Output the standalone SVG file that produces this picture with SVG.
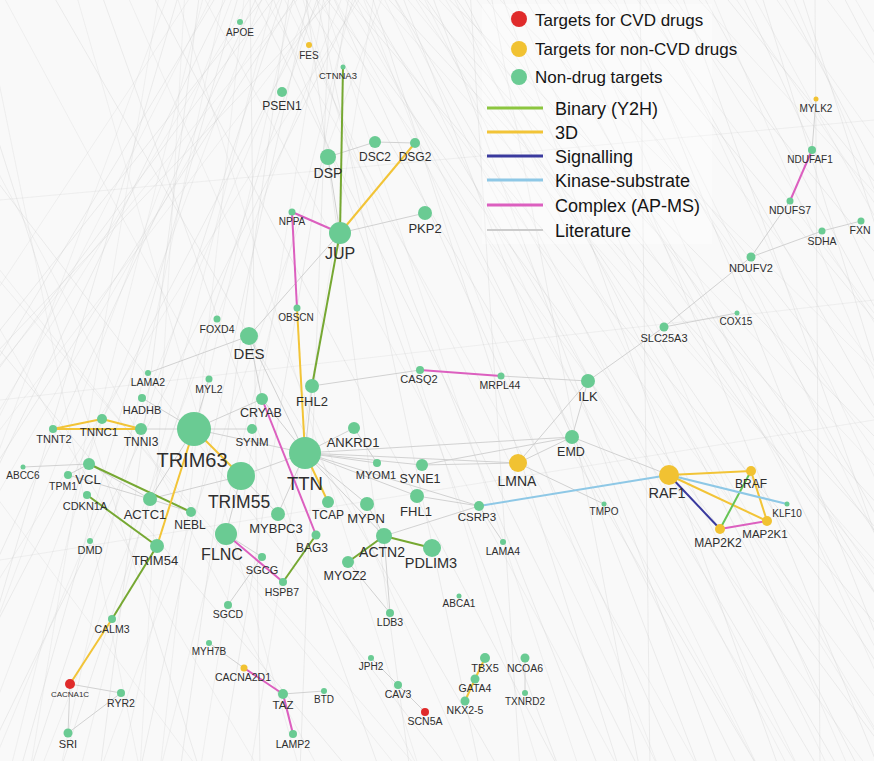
<svg xmlns="http://www.w3.org/2000/svg" width="874" height="761" viewBox="0 0 874 761">
<style>
.bg{stroke:#c4c4c4;stroke-width:0.55;opacity:0.5;fill:none}
.bg2{stroke:#cbcbcb;stroke-width:0.5;opacity:0.45;fill:none}
.lit{stroke:#cdcdcd;stroke-width:0.9}
.y2h{stroke:#76a832;stroke-width:2}
.d3{stroke:#f2c437;stroke-width:2}
.sig{stroke:#3a3a9e;stroke-width:2}
.ks{stroke:#8ec8e6;stroke-width:2}
.apms{stroke:#dc5fbf;stroke-width:2}
.g{fill:#6acb93}
.yl{fill:#f1c232}
.rd{fill:#e02b2b}
text{font-family:"Liberation Sans",Arial,Helvetica,sans-serif;fill:#2e2e2e;text-anchor:middle}
.lg text{text-anchor:start;fill:#151515}
</style>
<rect width="874" height="761" fill="#f9f9f9"/>
<path class="bg" d="M300 -10L760 771M320 -10L900 771M340 -10L1000 771M360 -10L820 771M380 -10L1100 771M400 -10L700 771M420 -10L950 771M440 -10L1200 771M460 -10L860 771M480 -10L1050 771M500 -10L780 771M520 -10L980 771M540 -10L1150 771M560 -10L880 771M580 -10L1020 771M600 -10L1250 771M620 -10L930 771M640 -10L1080 771M660 -10L1300 771M680 -10L960 771M700 -10L1130 771M720 -10L1350 771M250 -10L640 771M270 -10L560 771M290 -10L600 771M330 -10L680 771M350 -10L740 771M370 -10L620 771M390 -10L840 771M410 -10L1120 771M430 -10L720 771M450 -10L1000 771M280 -10L-300 771M260 -10L-100 771M240 -10L20 771M300 -10L-200 771M320 -10L60 771M220 -10L-250 771M200 -10L100 771M180 -10L-50 771M340 -10L-400 771M310 -10L140 771M290 -10L180 771M270 -10L-350 771M230 -10L-150 771M350 -10L220 771M360 -10L-20 771M250 -10L260 771M330 -10L300 771M-300 -10L350 771M-150 -10L450 771M-50 -10L200 771M50 -10L500 771M100 -10L380 771M150 -10L560 771M640 -10L650 771M815 -10L820 771M740 -10L1100 771M760 -10L1000 771M780 -10L1200 771M800 -10L1050 771M840 -10L1250 771M470 -10L520 771M490 -10L640 771M305 -10L410 771M315 -10L480 771M325 -10L-80 771M285 -10L30 771"/>
<path class="bg2" d="M310 -10L870 771M330 -10L760 771M350 -10L930 771M370 -10L1060 771M390 -10L790 771M410 -10L900 771M430 -10L1160 771M450 -10L830 771M470 -10L1010 771M490 -10L1280 771M510 -10L850 771M530 -10L940 771M550 -10L1100 771M570 -10L920 771M590 -10L1180 771M610 -10L990 771M630 -10L1220 771M650 -10L1010 771M670 -10L1150 771M690 -10L1400 771M710 -10L1040 771M730 -10L1260 771M750 -10L1180 771M770 -10L1320 771M790 -10L1120 771M820 -10L1400 771M850 -10L1300 771M260 -10L700 771M280 -10L660 771M300 -10L540 771M320 -10L580 771M340 -10L800 771M360 -10L660 771M380 -10L760 771M400 -10L1040 771M420 -10L800 771M440 -10L900 771M255 -10L-220 771M265 -10L-30 771M275 -10L80 771M285 -10L-160 771M295 -10L120 771M305 -10L-330 771M315 -10L-10 771M325 -10L200 771M335 -10L-260 771M345 -10L40 771M355 -10L160 771M365 -10L-120 771M235 -10L-60 771M245 -10L160 771M225 -10L60 771M215 -10L-180 771M205 -10L10 771M195 -10L-320 771M185 -10L140 771M170 -10L-120 771M160 -10L30 771M375 -10L250 771M385 -10L100 771M-250 -10L420 771M-200 -10L260 771M-100 -10L320 771M0 -10L420 771M-20 -10L140 771M75 -10L300 771M125 -10L470 771M175 -10L420 771M200 -10L620 771M-120 120L400 771M-150 300L200 771M0 400L874 300M0 200L874 120M0 560L874 420"/>
<g id="connectors">
<g class="lit">
<line x1="328" y1="157" x2="375" y2="142"/><line x1="375" y1="142" x2="415" y2="143"/><line x1="340" y1="233" x2="425" y2="213"/><line x1="328" y1="157" x2="340" y2="233"/><line x1="340" y1="233" x2="249" y2="336"/><line x1="148" y1="373" x2="249" y2="336"/>
<line x1="816" y1="99" x2="812" y2="150"/><line x1="790" y1="201" x2="751" y2="257"/><line x1="751" y1="257" x2="822" y2="231"/><line x1="822" y1="231" x2="861" y2="221"/><line x1="751" y1="257" x2="664" y2="327"/><line x1="664" y1="327" x2="737" y2="313"/><line x1="664" y1="327" x2="588" y2="381"/><line x1="501" y1="376" x2="588" y2="381"/>
<line x1="305" y1="453" x2="194" y2="429"/><line x1="305" y1="453" x2="241" y2="476"/><line x1="305" y1="453" x2="354" y2="428"/><line x1="305" y1="453" x2="377" y2="463"/><line x1="305" y1="453" x2="422" y2="465"/><line x1="305" y1="453" x2="518" y2="463"/><line x1="305" y1="453" x2="417" y2="496"/><line x1="305" y1="453" x2="367" y2="504"/><line x1="305" y1="453" x2="262" y2="399"/><line x1="305" y1="453" x2="312" y2="386"/><line x1="305" y1="453" x2="572" y2="437"/><line x1="305" y1="453" x2="384" y2="536"/><line x1="305" y1="453" x2="479" y2="506"/><line x1="305" y1="453" x2="278" y2="514"/><line x1="305" y1="453" x2="249" y2="336"/>
<line x1="518" y1="463" x2="572" y2="437"/><line x1="518" y1="463" x2="422" y2="465"/><line x1="518" y1="463" x2="604" y2="504"/><line x1="518" y1="463" x2="588" y2="381"/><line x1="572" y1="437" x2="588" y2="381"/><line x1="572" y1="437" x2="669" y2="475"/><line x1="572" y1="437" x2="422" y2="465"/>
<line x1="479" y1="506" x2="417" y2="496"/><line x1="479" y1="506" x2="503" y2="542"/><line x1="384" y1="536" x2="479" y2="506"/><line x1="384" y1="536" x2="390" y2="613"/><line x1="348" y1="562" x2="390" y2="613"/><line x1="367" y1="504" x2="384" y2="536"/><line x1="312" y1="386" x2="420" y2="370"/><line x1="354" y1="428" x2="377" y2="463"/><line x1="262" y1="399" x2="249" y2="336"/>
<line x1="194" y1="429" x2="141" y2="429"/><line x1="194" y1="429" x2="150" y2="499"/><line x1="194" y1="429" x2="142" y2="398"/><line x1="194" y1="429" x2="252" y2="429"/><line x1="194" y1="429" x2="209" y2="379"/><line x1="194" y1="429" x2="262" y2="399"/><line x1="241" y1="476" x2="278" y2="514"/><line x1="241" y1="476" x2="226" y2="534"/><line x1="241" y1="476" x2="150" y2="499"/>
<line x1="89" y1="464" x2="150" y2="499"/><line x1="89" y1="464" x2="68" y2="475"/><line x1="23" y1="467" x2="89" y2="464"/><line x1="150" y1="499" x2="68" y2="475"/><line x1="150" y1="499" x2="191" y2="512"/><line x1="226" y1="534" x2="262" y2="557"/><line x1="262" y1="557" x2="228" y2="605"/>
<line x1="70" y1="684" x2="121" y2="693"/><line x1="121" y1="693" x2="68" y2="733"/><line x1="70" y1="684" x2="68" y2="733"/><line x1="209" y1="643" x2="244" y2="668"/><line x1="324" y1="691" x2="283" y2="694"/><line x1="371" y1="658" x2="398" y2="685"/><line x1="398" y1="685" x2="425" y2="712"/><line x1="525" y1="658" x2="525" y2="693"/>
</g>
<g class="y2h">
<line x1="343" y1="67" x2="340" y2="233"/><line x1="340" y1="233" x2="312" y2="386"/><line x1="89" y1="464" x2="191" y2="512"/><line x1="87" y1="495" x2="157" y2="546"/><line x1="157" y1="546" x2="112" y2="619"/><line x1="283" y1="582" x2="316" y2="535"/><line x1="384" y1="536" x2="432" y2="548"/><line x1="384" y1="536" x2="348" y2="562"/>
</g>
<g class="d3">
<line x1="415" y1="143" x2="340" y2="233"/><line x1="297" y1="308" x2="305" y2="453"/><line x1="305" y1="453" x2="328" y2="502"/><line x1="194" y1="429" x2="241" y2="476"/><line x1="194" y1="429" x2="157" y2="546"/><line x1="53" y1="429" x2="102" y2="419"/><line x1="102" y1="419" x2="141" y2="429"/><line x1="53" y1="429" x2="141" y2="429"/><line x1="112" y1="619" x2="70" y2="684"/><line x1="485" y1="658" x2="475" y2="679"/><line x1="475" y1="679" x2="465" y2="701"/><line x1="669" y1="475" x2="751" y2="471"/><line x1="669" y1="475" x2="767" y2="521"/><line x1="751" y1="471" x2="767" y2="521"/>
</g>
<g class="apms">
<line x1="292" y1="212" x2="340" y2="233"/><line x1="292" y1="212" x2="297" y2="308"/><line x1="262" y1="399" x2="316" y2="535"/><line x1="226" y1="534" x2="283" y2="582"/><line x1="244" y1="668" x2="283" y2="694"/><line x1="283" y1="694" x2="293" y2="734"/><line x1="420" y1="370" x2="501" y2="376"/><line x1="812" y1="150" x2="790" y2="201"/><line x1="720" y1="529" x2="767" y2="521"/>
</g>
<line class="y2h" x1="751" y1="471" x2="720" y2="529" style="stroke:#66c455"/>
<line class="sig" x1="669" y1="475" x2="720" y2="529"/>
<g class="ks"><line x1="479" y1="506" x2="669" y2="475"/><line x1="669" y1="475" x2="787" y2="504"/></g>
</g>
<g id="n-APOE"><circle class="g" cx="240" cy="22" r="3"/><text x="240" y="36" font-size="10">APOE</text></g>
<g id="n-FES"><circle class="yl" cx="309" cy="45" r="3"/><text x="309" y="59" font-size="10">FES</text></g>
<g id="n-CTNNA3"><circle class="g" cx="343" cy="67" r="2.5"/><text x="338" y="79" font-size="9.5">CTNNA3</text></g>
<g id="n-PSEN1"><circle class="g" cx="282" cy="92" r="5"/><text x="282" y="110" font-size="12">PSEN1</text></g>
<g id="n-DSC2"><circle class="g" cx="375" cy="142" r="6"/><text x="375" y="161" font-size="12">DSC2</text></g>
<g id="n-DSG2"><circle class="g" cx="415" cy="143" r="5"/><text x="415" y="161" font-size="12">DSG2</text></g>
<g id="n-DSP"><circle class="g" cx="328" cy="157" r="8"/><text x="328" y="178" font-size="14">DSP</text></g>
<g id="n-MYLK2"><circle class="yl" cx="816" cy="99" r="2.5"/><text x="816" y="112" font-size="10">MYLK2</text></g>
<g id="n-NDUFAF1"><circle class="g" cx="812" cy="150" r="4"/><text x="810" y="163" font-size="10">NDUFAF1</text></g>
<g id="n-NDUFS7"><circle class="g" cx="790" cy="201" r="3.5"/><text x="790" y="214" font-size="10.5">NDUFS7</text></g>
<g id="n-SDHA"><circle class="g" cx="822" cy="231" r="3.5"/><text x="822" y="245" font-size="10.5">SDHA</text></g>
<g id="n-FXN"><circle class="g" cx="861" cy="221" r="3.5"/><text x="860" y="234" font-size="10.5">FXN</text></g>
<g id="n-NDUFV2"><circle class="g" cx="751" cy="257" r="4.5"/><text x="751" y="272" font-size="11">NDUFV2</text></g>
<g id="n-COX15"><circle class="g" cx="737" cy="313" r="2.5"/><text x="736" y="325" font-size="10">COX15</text></g>
<g id="n-SLC25A3"><circle class="g" cx="664" cy="327" r="4.5"/><text x="664" y="342" font-size="11">SLC25A3</text></g>
<g id="n-NPPA"><circle class="g" cx="292" cy="212" r="3.5"/><text x="292" y="225" font-size="10">NPPA</text></g>
<g id="n-OBSCN"><circle class="g" cx="297" cy="308" r="3.5"/><text x="296" y="321" font-size="10">OBSCN</text></g>
<g id="n-JUP"><circle class="g" cx="340" cy="233" r="11"/><text x="340" y="259" font-size="16">JUP</text></g>
<g id="n-PKP2"><circle class="g" cx="425" cy="213" r="7"/><text x="425" y="233" font-size="13">PKP2</text></g>
<g id="n-FOXD4"><circle class="g" cx="217" cy="319" r="3.5"/><text x="217" y="333" font-size="10.5">FOXD4</text></g>
<g id="n-DES"><circle class="g" cx="249" cy="336" r="9"/><text x="249" y="359" font-size="15">DES</text></g>
<g id="n-LAMA2"><circle class="g" cx="148" cy="373" r="3"/><text x="148" y="386" font-size="10.5">LAMA2</text></g>
<g id="n-MYL2"><circle class="g" cx="209" cy="379" r="3.5"/><text x="209" y="393" font-size="10.5">MYL2</text></g>
<g id="n-CASQ2"><circle class="g" cx="420" cy="370" r="4"/><text x="419" y="383" font-size="11">CASQ2</text></g>
<g id="n-MRPL44"><circle class="g" cx="501" cy="376" r="3.5"/><text x="500" y="389" font-size="10.5">MRPL44</text></g>
<g id="n-ILK"><circle class="g" cx="588" cy="381" r="7"/><text x="588" y="401" font-size="13">ILK</text></g>
<g id="n-FHL2"><circle class="g" cx="312" cy="386" r="7"/><text x="312" y="406" font-size="13">FHL2</text></g>
<g id="n-HADHB"><circle class="g" cx="142" cy="398" r="4"/><text x="142" y="414" font-size="11">HADHB</text></g>
<g id="n-CRYAB"><circle class="g" cx="262" cy="399" r="6"/><text x="261" y="417" font-size="12.5">CRYAB</text></g>
<g id="n-TNNC1"><circle class="g" cx="102" cy="419" r="5"/><text x="99" y="436" font-size="11.5">TNNC1</text></g>
<g id="n-TNNT2"><circle class="g" cx="53" cy="429" r="4"/><text x="54" y="443" font-size="11">TNNT2</text></g>
<g id="n-TNNI3"><circle class="g" cx="141" cy="429" r="6"/><text x="141" y="446" font-size="12">TNNI3</text></g>
<g id="n-TRIM63"><circle class="g" cx="194" cy="429" r="17"/><text x="192" y="467" font-size="20">TRIM63</text></g>
<g id="n-SYNM"><circle class="g" cx="252" cy="429" r="5"/><text x="252" y="446" font-size="11.5">SYNM</text></g>
<g id="n-ANKRD1"><circle class="g" cx="354" cy="428" r="6"/><text x="353" y="447" font-size="13">ANKRD1</text></g>
<g id="n-EMD"><circle class="g" cx="572" cy="437" r="7"/><text x="571" y="456" font-size="12.5">EMD</text></g>
<g id="n-TTN"><circle class="g" cx="305" cy="453" r="16"/><text x="305" y="490" font-size="18.5">TTN</text></g>
<g id="n-MYOM1"><circle class="g" cx="377" cy="463" r="4"/><text x="376" y="479" font-size="11">MYOM1</text></g>
<g id="n-SYNE1"><circle class="g" cx="422" cy="465" r="6"/><text x="420" y="483" font-size="12.5">SYNE1</text></g>
<g id="n-LMNA"><circle class="yl" cx="518" cy="463" r="9"/><text x="517" y="486" font-size="14">LMNA</text></g>
<g id="n-ABCC6"><circle class="g" cx="23" cy="467" r="2.5"/><text x="23" y="479" font-size="10">ABCC6</text></g>
<g id="n-VCL"><circle class="g" cx="89" cy="464" r="6"/><text x="88" y="484" font-size="13">VCL</text></g>
<g id="n-TPM1"><circle class="g" cx="68" cy="475" r="4"/><text x="63" y="490" font-size="10.5">TPM1</text></g>
<g id="n-TRIM55"><circle class="g" cx="241" cy="476" r="14"/><text x="239" y="508" font-size="17.5">TRIM55</text></g>
<g id="n-RAF1"><circle class="yl" cx="669" cy="475" r="10"/><text x="667" y="498" font-size="14.5">RAF1</text></g>
<g id="n-BRAF"><circle class="yl" cx="751" cy="471" r="5"/><text x="751" y="488" font-size="12">BRAF</text></g>
<g id="n-CDKN1A"><circle class="g" cx="87" cy="495" r="4"/><text x="85" y="510" font-size="11">CDKN1A</text></g>
<g id="n-FHL1"><circle class="g" cx="417" cy="496" r="7"/><text x="416" y="516" font-size="13">FHL1</text></g>
<g id="n-ACTC1"><circle class="g" cx="150" cy="499" r="7"/><text x="145" y="519" font-size="13">ACTC1</text></g>
<g id="n-TCAP"><circle class="g" cx="328" cy="502" r="6"/><text x="328" y="519" font-size="12">TCAP</text></g>
<g id="n-MYPN"><circle class="g" cx="367" cy="504" r="7"/><text x="366" y="523" font-size="13">MYPN</text></g>
<g id="n-CSRP3"><circle class="g" cx="479" cy="506" r="5"/><text x="477" y="521" font-size="11.5">CSRP3</text></g>
<g id="n-KLF10"><circle class="g" cx="787" cy="504" r="2.5"/><text x="787" y="517" font-size="10">KLF10</text></g>
<g id="n-TMPO"><circle class="g" cx="604" cy="504" r="2.5"/><text x="604" y="515" font-size="10">TMPO</text></g>
<g id="n-NEBL"><circle class="g" cx="191" cy="512" r="5"/><text x="190" y="529" font-size="12">NEBL</text></g>
<g id="n-MYBPC3"><circle class="g" cx="278" cy="514" r="7"/><text x="276" y="533" font-size="13">MYBPC3</text></g>
<g id="n-MAP2K1"><circle class="yl" cx="767" cy="521" r="5"/><text x="765" y="538" font-size="11.5">MAP2K1</text></g>
<g id="n-MAP2K2"><circle class="yl" cx="720" cy="529" r="5"/><text x="718" y="547" font-size="12">MAP2K2</text></g>
<g id="n-FLNC"><circle class="g" cx="226" cy="534" r="11"/><text x="222" y="560" font-size="16">FLNC</text></g>
<g id="n-BAG3"><circle class="g" cx="316" cy="535" r="4.5"/><text x="312" y="552" font-size="12">BAG3</text></g>
<g id="n-ACTN2"><circle class="g" cx="384" cy="536" r="8"/><text x="382" y="557" font-size="14">ACTN2</text></g>
<g id="n-DMD"><circle class="g" cx="90" cy="541" r="3"/><text x="90" y="554" font-size="11">DMD</text></g>
<g id="n-LAMA4"><circle class="g" cx="503" cy="542" r="3"/><text x="503" y="555" font-size="10.5">LAMA4</text></g>
<g id="n-TRIM54"><circle class="g" cx="157" cy="546" r="7"/><text x="155" y="565" font-size="13">TRIM54</text></g>
<g id="n-PDLIM3"><circle class="g" cx="432" cy="548" r="9"/><text x="431" y="568" font-size="14.5">PDLIM3</text></g>
<g id="n-SGCG"><circle class="g" cx="262" cy="557" r="4"/><text x="262" y="574" font-size="11">SGCG</text></g>
<g id="n-MYOZ2"><circle class="g" cx="348" cy="562" r="6"/><text x="345" y="580" font-size="12.5">MYOZ2</text></g>
<g id="n-HSPB7"><circle class="g" cx="283" cy="582" r="4"/><text x="282" y="596" font-size="10.5">HSPB7</text></g>
<g id="n-ABCA1"><circle class="g" cx="459" cy="596" r="2.5"/><text x="459" y="607" font-size="10">ABCA1</text></g>
<g id="n-SGCD"><circle class="g" cx="228" cy="605" r="4"/><text x="228" y="618" font-size="10.5">SGCD</text></g>
<g id="n-LDB3"><circle class="g" cx="390" cy="613" r="4"/><text x="390" y="626" font-size="10.5">LDB3</text></g>
<g id="n-CALM3"><circle class="g" cx="112" cy="619" r="4"/><text x="112" y="633" font-size="10.5">CALM3</text></g>
<g id="n-MYH7B"><circle class="g" cx="209" cy="643" r="3"/><text x="209" y="655" font-size="10">MYH7B</text></g>
<g id="n-JPH2"><circle class="g" cx="371" cy="658" r="3"/><text x="371" y="670" font-size="10">JPH2</text></g>
<g id="n-TBX5"><circle class="g" cx="485" cy="658" r="5"/><text x="485" y="672" font-size="11">TBX5</text></g>
<g id="n-NCOA6"><circle class="g" cx="525" cy="658" r="4.5"/><text x="525" y="672" font-size="10.5">NCOA6</text></g>
<g id="n-CACNA2D1"><circle class="yl" cx="244" cy="668" r="3.5"/><text x="243" y="681" font-size="10.5">CACNA2D1</text></g>
<g id="n-GATA4"><circle class="g" cx="475" cy="679" r="4.5"/><text x="475" y="692" font-size="10.5">GATA4</text></g>
<g id="n-CACNA1C"><circle class="rd" cx="70" cy="684" r="5"/><text x="70" y="697" font-size="8">CACNA1C</text></g>
<g id="n-CAV3"><circle class="g" cx="398" cy="685" r="4"/><text x="398" y="698" font-size="10.5">CAV3</text></g>
<g id="n-BTD"><circle class="g" cx="324" cy="691" r="3"/><text x="324" y="703" font-size="10">BTD</text></g>
<g id="n-RYR2"><circle class="g" cx="121" cy="693" r="4"/><text x="121" y="707" font-size="10.5">RYR2</text></g>
<g id="n-TXNRD2"><circle class="g" cx="525" cy="693" r="3"/><text x="525" y="705" font-size="10">TXNRD2</text></g>
<g id="n-TAZ"><circle class="g" cx="283" cy="694" r="5"/><text x="283" y="709" font-size="11.5">TAZ</text></g>
<g id="n-NKX2-5"><circle class="g" cx="465" cy="701" r="4.5"/><text x="465" y="714" font-size="10.5">NKX2-5</text></g>
<g id="n-SCN5A"><circle class="rd" cx="425" cy="712" r="4"/><text x="425" y="725" font-size="10.5">SCN5A</text></g>
<g id="n-SRI"><circle class="g" cx="68" cy="733" r="4.5"/><text x="68" y="748" font-size="11">SRI</text></g>
<g id="n-LAMP2"><circle class="g" cx="293" cy="734" r="4"/><text x="293" y="748" font-size="10.5">LAMP2</text></g>
<g id="legend" class="lg">
<rect x="482" y="4" width="230" height="240" fill="#ffffff" opacity="0.3"/>
<circle class="rd" cx="519" cy="19" r="8"/><text x="535" y="26" font-size="17">Targets for CVD drugs</text>
<circle class="yl" cx="519" cy="49" r="8"/><text x="535" y="55" font-size="17">Targets for non-CVD drugs</text>
<circle class="g" cx="519" cy="77" r="8"/><text x="535" y="83" font-size="17">Non-drug targets</text>
<line x1="487" y1="108" x2="543" y2="108" stroke="#8cc63f" stroke-width="3"/><text x="555" y="115" font-size="18">Binary (Y2H)</text>
<line x1="487" y1="132" x2="543" y2="132" stroke="#f2c437" stroke-width="3"/><text x="555" y="139" font-size="18">3D</text>
<line x1="487" y1="156" x2="543" y2="156" stroke="#3a3a9e" stroke-width="3"/><text x="555" y="163" font-size="18">Signalling</text>
<line x1="487" y1="180" x2="543" y2="180" stroke="#8ec8e6" stroke-width="3"/><text x="555" y="187" font-size="18">Kinase-substrate</text>
<line x1="487" y1="205" x2="543" y2="205" stroke="#dc5fbf" stroke-width="3"/><text x="555" y="212" font-size="18">Complex (AP-MS)</text>
<line x1="487" y1="230" x2="543" y2="230" stroke="#cccccc" stroke-width="2"/><text x="555" y="237" font-size="18">Literature</text>
</g>
</svg>
